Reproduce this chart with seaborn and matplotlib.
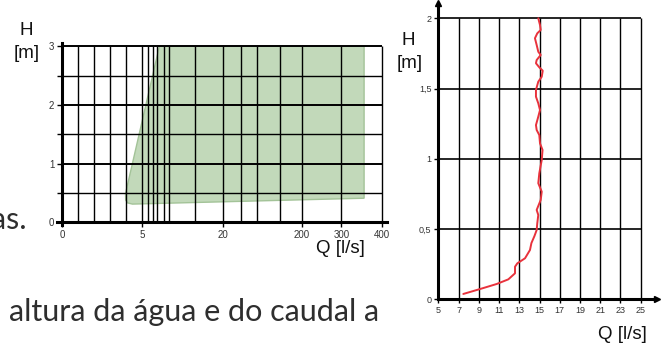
import numpy as np
import matplotlib
matplotlib.use("Agg")
import matplotlib.pyplot as plt
import seaborn as sns

# ---------------- data ----------------
# left chart (operating zone)
left_q_ticks = [0, 5, 20, 200, 300, 400]
left_q_ticklabels = ["0", "5", "20", "200", "300", "400"]
left_q_grid = [1, 2, 3, 4, 5, 6, 7, 8, 9, 10, 15, 20, 50, 100, 150, 200, 300, 400]
left_h_ticks = [0, 1, 2, 3]
left_h_minor = [0.5, 1.5, 2.5]
left_h_grid = [0.5, 1, 1.5, 2, 2.5, 3]
zone_q = [8.35, 3.97, 3.98, 4.1, 4.4, 356, 356]
zone_h = [3.0, 0.49, 0.38, 0.33, 0.31, 0.41, 3.0]

# right chart (Q-H curve)
right_q_ticks = [5, 7, 9, 11, 13, 15, 17, 19, 21, 23, 25]
right_h_ticks = [0, 0.5, 1, 1.5, 2]
right_h_ticklabels = ["0", "0,5", "1", "1,5", "2"]
curve_q = [7.47, 9.12, 10.77, 11.92, 12.58, 12.58, 12.81, 13.57, 14.06, 14.2, 14.5,
           14.72, 14.78, 14.88, 14.72, 15.12, 15.22, 14.88, 14.98, 15.22, 15.3, 15.05,
           14.98, 14.72, 14.65, 14.88, 15.05, 14.88, 14.65, 14.65, 14.88, 15.22, 15.32,
           14.98, 14.65, 14.72, 15.12, 14.88, 14.72, 14.55, 14.78, 15.12, 15.05, 14.88]
curve_h = [0.038, 0.073, 0.109, 0.142, 0.185, 0.232, 0.256, 0.292, 0.351, 0.40, 0.45,
           0.493, 0.541, 0.60, 0.636, 0.707, 0.766, 0.826, 0.897, 0.991, 1.063, 1.11,
           1.169, 1.205, 1.24, 1.30, 1.347, 1.395, 1.442, 1.49, 1.549, 1.584, 1.627,
           1.651, 1.68, 1.703, 1.739, 1.762, 1.81, 1.858, 1.893, 1.917, 1.952, 2.0]

# ---------------- style ----------------
sns.set_theme(style="white")
plt.rcParams["font.family"] = ["Liberation Sans", "DejaVu Sans"]

W, H = 662, 345
fig = plt.figure(figsize=(W / 100, H / 100), dpi=100)
fig.patch.set_facecolor("white")

def fx(px):
    return px / W

def fy(py):
    return 1 - py / H

tick_col = "#333333"

# ---------------- left chart ----------------
# piecewise scale of the original chart
knot_v = np.array([-1, 0, 5, 6, 7, 8, 9, 10, 15, 20, 50, 100, 150, 200, 300, 400, 420])
knot_u = np.array([-16, 0, 80, 86, 90.7, 95, 101.7, 106.7, 133.3, 160.7, 179, 195,
                   217.7, 240, 279.3, 320, 328.1])

def fwd(v):
    return np.interp(v, knot_v, knot_u)

def inv(u):
    return np.interp(u, knot_u, knot_v)

axL = fig.add_axes([fx(57), fy(225.2), 330 / W, 181.8 / H])
axL.set_xscale("function", functions=(fwd, inv))
axL.set_xlim(inv(-5), inv(325))
axL.set_ylim(-0.05, 3.05)

axL.fill(zone_q, zone_h, facecolor="#c2d9ba", edgecolor="#a3c398", lw=1.0, zorder=1)
for q in left_q_grid:
    axL.plot([q, q], [0, 3], color="black", lw=1.0, zorder=2, solid_capstyle="butt")
for h in left_h_grid:
    lw = 1.4 if float(h).is_integer() else 1.0
    axL.plot([0, 400], [h, h], color="black", lw=lw, zorder=2, solid_capstyle="butt")

axL.set_xticks(left_q_ticks)
axL.set_xticklabels(left_q_ticklabels)
axL.xaxis.set_minor_locator(matplotlib.ticker.NullLocator())
axL.set_yticks(left_h_ticks)
axL.set_yticklabels([str(v) for v in left_h_ticks])
axL.set_yticks(left_h_minor, minor=True)
axL.tick_params(axis="both", which="both", direction="out", length=3.5, width=1,
                color="black", labelsize=7, labelcolor=tick_col, pad=2)
axL.tick_params(axis="both", which="both", bottom=True, left=True)
for s in ["top", "right"]:
    axL.spines[s].set_visible(False)
for s in ["left", "bottom"]:
    axL.spines[s].set_linewidth(2.2)
    axL.spines[s].set_color("black")
axL.spines["left"].set_position(("data", 0))
axL.spines["bottom"].set_position(("data", 0))
axL.set_facecolor("none")
axL.grid(False)

# ---------------- right chart ----------------
axR = fig.add_axes([fx(438.3), fy(299.3), (657 - 438.3) / W, (299.3 - 3) / H])
axR.set_xlim(5, 5 + (657 - 438.3) / 10.12)
axR.set_ylim(0, 296.3 / 140.5)

for q in right_q_ticks[1:]:
    axR.plot([q, q], [0, 2], color="black", lw=1.0, zorder=2, solid_capstyle="butt")
for h in right_h_ticks[1:]:
    axR.plot([5, 25], [h, h], color="black", lw=1.2, zorder=2, solid_capstyle="butt")

sns.lineplot(x=curve_q, y=curve_h, sort=False, estimator=None, ax=axR,
             color="#e8323c", lw=1.4, zorder=3)

axR.set_xticks(right_q_ticks)
axR.set_yticks(right_h_ticks)
axR.set_yticklabels(right_h_ticklabels)
axR.tick_params(axis="both", which="both", direction="out", length=3, width=1,
                color="black", labelsize=6.5, labelcolor=tick_col, pad=2)
axR.tick_params(axis="both", bottom=True, left=True)
for s in ["top", "right"]:
    axR.spines[s].set_visible(False)
for s in ["left", "bottom"]:
    axR.spines[s].set_linewidth(2.2)
    axR.spines[s].set_color("black")
axR.set_facecolor("none")
axR.grid(False)
axR.plot(1, 0, ">", color="black", ms=5, transform=axR.get_yaxis_transform(), clip_on=False)
axR.plot(5, 1, "^", color="black", ms=5, transform=axR.get_xaxis_transform(), clip_on=False)

# ---------------- labels ----------------
lab_kw = dict(fontsize=13.5, color="#111111", ha="center", va="baseline")
fig.text(fx(26.7), fy(35), "H", **lab_kw)
fig.text(fx(26.7), fy(58), "[m]", **lab_kw)
fig.text(fx(340), fy(253), "Q [l/s]", **lab_kw)
fig.text(fx(408.3), fy(45), "H", **lab_kw)
fig.text(fx(410), fy(67.5), "[m]", **lab_kw)
fig.text(fx(622), fy(339), "Q [l/s]", **lab_kw)

body_kw = dict(fontsize=22, color="#2e2e2e", va="baseline", family=["Lato", "DejaVu Sans"])
fig.text(fx(27), fy(229), "as.", ha="right", **body_kw)
fig.text(fx(9), fy(320.5), "altura da água e do caudal a", ha="left", **body_kw)

fig.savefig("out.png", dpi=100)
